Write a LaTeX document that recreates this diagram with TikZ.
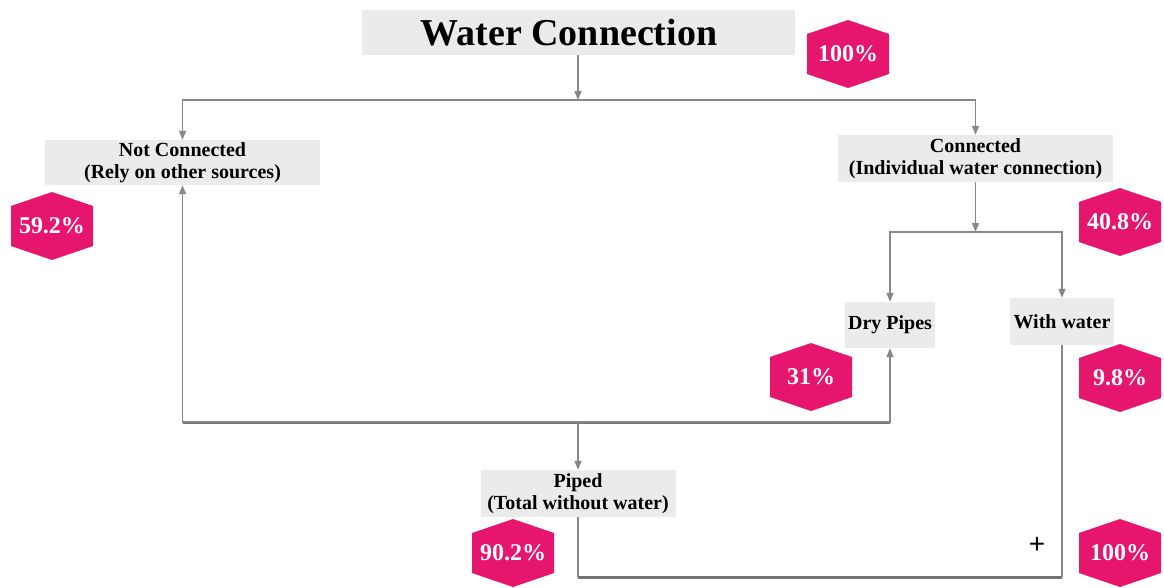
\documentclass[tikz,border=0pt]{standalone}
\usepackage{fontspec}
\setmainfont{Liberation Serif}
\setsansfont{Liberation Sans}
\usetikzlibrary{arrows.meta}
\definecolor{hexcol}{RGB}{230,22,110}
\definecolor{boxcol}{RGB}{235,235,235}
\definecolor{linecol}{RGB}{135,135,135}
\tikzset{
  box/.style={fill=boxcol, inner sep=0pt, align=center, font=\bfseries\fontsize{20}{22}\selectfont},
  conn/.style={draw=linecol, line width=1.5pt},
  heavy/.style={draw=linecol!85!black, line width=3pt},
  arr/.style={conn, -{Triangle[length=9pt,width=7pt]}},
  pct/.style={text=white, font=\bfseries\fontsize{24}{24}\selectfont, inner sep=0pt},
  hexpic/.pic={\fill[hexcol] (0,-34)--(41,-20)--(41,20)--(0,34)--(-41,20)--(-41,-20)--cycle;
               \node[pct] (-t) at (0,0) {#1};}
}
\begin{document}
\begin{tikzpicture}[x=1pt,y=-1pt]
\useasboundingbox (0,0) rectangle (1164,587);

% boxes
\node[box, minimum width=433pt, minimum height=45pt, font=\bfseries\fontsize{38}{40}\selectfont]
  (title) at (578,32.5) {Water Connection\hspace{18pt}};
\node[box, minimum width=275pt, minimum height=45pt] (nc) at (182.5,162.5) {Not Connected\\(Rely on other sources)};
\node[box, minimum width=275pt, minimum height=47pt] (con) at (975.5,158.5) {Connected\\(Individual water connection)};
\node[box, minimum width=90pt, minimum height=46pt] (dry) at (890,325) {Dry Pipes};
\node[box, minimum width=104pt, minimum height=47pt] (ww) at (1062,321.5) {With water};
\node[box, minimum width=195pt, minimum height=47pt] (piped) at (578,493.5) {Piped\\(Total without water)};

% junctions
\coordinate (jt) at (578,100);
\coordinate (jc) at (975.5,232);
\coordinate (jb) at (578,422);
\coordinate (jp) at (1062,577);

% connectors
\draw[arr] (title.south) -- (jt);
\draw[arr] (jt) -| (nc.north);
\draw[arr] (jt) -| (con.north);
\draw[arr] (con.south) -- (jc);
\draw[arr] (jc) -| (dry.north);
\draw[arr] (jc) -| (ww.north);
\draw[heavy] (nc.south |- jb) -- (dry.south |- jb);
\draw[arr] (jb) -| (nc.south);
\draw[arr] (jb) -| (dry.south);
\draw[arr] (jb) -- (piped.north);
\draw[conn] (piped.south) -- (piped.south |- jp);
\draw[heavy] (piped.south |- jp) -- (jp);
\draw[conn] (jp) -- (ww.south);

% percentages
\pic (p1) at (848,54) {hexpic={100\%}};
\pic (p2) at (52,226) {hexpic={59.2\%}};
\pic (p3) at (1120,222) {hexpic={40.8\%}};
\pic (p4) at (811,377) {hexpic={31\%}};
\pic (p5) at (1120,378) {hexpic={9.8\%}};
\pic (p6) at (513,553) {hexpic={90.2\%}};
\pic (p7) at (1120,553) {hexpic={100\%}};

\node[font=\sffamily\fontsize{28}{28}\selectfont, inner sep=0pt] (plus) at (1037,545) {+};
\end{tikzpicture}
\end{document}
